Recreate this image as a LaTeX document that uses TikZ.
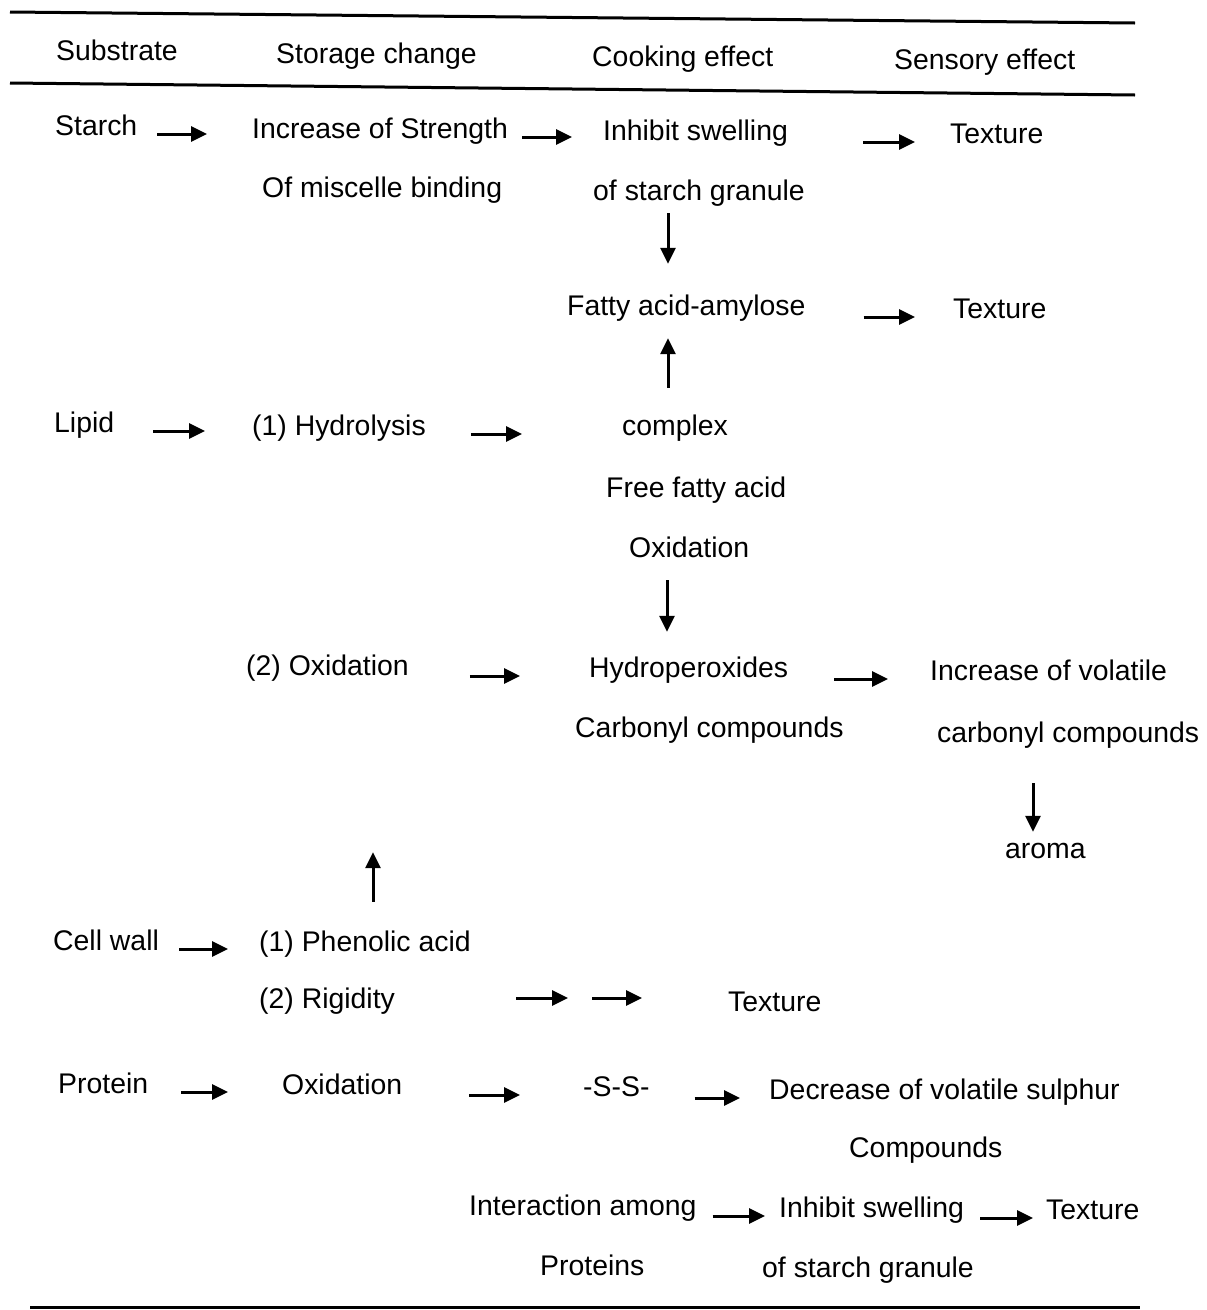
\documentclass[tikz,border=0pt]{standalone}
\usepackage{fontspec}
\setmainfont{Liberation Sans}
\usetikzlibrary{arrows.meta}

\begin{document}
\begin{tikzpicture}[x=1pt,y=-1pt,
  text node/.style={anchor=base west,inner sep=0pt,text height=20pt,text depth=18pt,
    font=\fontsize{28.4}{34}\selectfont},
  flow arrow/.style={line width=3pt,-{Triangle[length=16pt,width=15pt]}},
  rule/.style={line width=3pt}]

  \useasboundingbox (0,0) rectangle (1207,1310);

  % table rules
  \draw[rule] (10,12) -- (1135,23);
  \draw[rule] (10,83) -- (1135,95);
  \draw[rule] (30,1307) -- (1140,1307);

  % header
  \node[text node] (sub) at (56,60) {Substrate};
  \node[text node] (stor) at (276,63) {Storage change};
  \node[text node] (cook) at (592,66) {Cooking effect};
  \node[text node] (sens) at (894,69) {Sensory effect};

  % starch
  \node[text node] (starch) at (55,135) {Starch};
  \node[text node] (incr) at (252,138) {Increase of Strength};
  \node[text node] (misc) at (262,197) {Of miscelle binding};
  \node[text node] (inh) at (603,140) {Inhibit swelling};
  \node[text node] (gran) at (593,200) {of starch granule};
  \node[text node] (tex1) at (950,143) {Texture};
  \node[text node] (fatty) at (567,315) {Fatty acid-amylose};
  \node[text node] (tex2) at (953,318) {Texture};

  % lipid
  \node[text node] (lipid) at (54,432) {Lipid};
  \node[text node] (hydro) at (252,435) {(1) Hydrolysis};
  \node[text node] (compl) at (622,435) {complex};
  \node[text node] (ffa) at (606,497) {Free fatty acid};
  \node[text node] (oxl) at (629,557) {Oxidation};
  \node[text node] (oxs) at (246,675) {(2) Oxidation};
  \node[text node] (hyper) at (589,677) {Hydroperoxides};
  \node[text node] (carb) at (575,737) {Carbonyl compounds};
  \node[text node] (incv) at (930,680) {Increase of volatile};
  \node[text node] (carbv) at (937,742) {carbonyl compounds};
  \node[text node] (aroma) at (1005,858) {aroma};

  % cell wall
  \node[text node] (cell) at (53,950) {Cell wall};
  \node[text node] (phen) at (259,951) {(1) Phenolic acid};
  \node[text node] (rigid) at (259,1008) {(2) Rigidity};
  \node[text node] (tex3) at (728,1011) {Texture};
  \coordinate (mid) at (580,998);

  % protein
  \node[text node] (prot) at (58,1093) {Protein};
  \node[text node] (oxp) at (282,1094) {Oxidation};
  \node[text node] (ss) at (583,1096) {-S-S-};
  \node[text node] (decr) at (769,1099) {Decrease of volatile sulphur};
  \node[text node] (comp) at (849,1157) {Compounds};
  \node[text node] (inter) at (469,1215) {Interaction among};
  \node[text node] (inh2) at (779,1217) {Inhibit swelling};
  \node[text node] (tex4) at (1046,1219) {Texture};
  \node[text node] (prots) at (540,1275) {Proteins};
  \node[text node] (gran2) at (762,1277) {of starch granule};

  % horizontal arrows
  \draw[flow arrow,shorten <=20pt,shorten >=45pt] (starch.east) -- (incr.west |- starch.east);
  \draw[flow arrow,shorten <=14pt,shorten >=31pt] (incr.east) -- (inh.west |- incr.east);
  \draw[flow arrow,shorten <=75pt,shorten >=35pt] (inh.east |- tex1.west) -- (tex1.west);
  \draw[flow arrow,shorten <=58pt,shorten >=38pt] (fatty.east |- tex2.west) -- (tex2.west);
  \draw[flow arrow,shorten <=39pt,shorten >=47pt] (lipid.east) -- (hydro.west |- lipid.east);
  \draw[flow arrow,shorten <=45pt,shorten >=100pt] (hydro.east) -- (compl.west |- hydro.east);
  \draw[flow arrow,shorten <=61pt,shorten >=69pt] (oxs.east |- hyper.west) -- (hyper.west);
  \draw[flow arrow,shorten <=46pt,shorten >=42pt] (hyper.east |- incv.west) -- (incv.west);
  \draw[flow arrow,shorten <=20pt,shorten >=31pt] (cell.east) -- (phen.west |- cell.east);
  \draw[flow arrow,shorten <=121pt,shorten >=12pt] (rigid.east |- mid) -- (mid);
  \draw[flow arrow,shorten <=12pt,shorten >=86pt] (mid) -- (mid -| tex3.west);
  \draw[flow arrow,shorten <=33pt,shorten >=54pt] (prot.east) -- (oxp.west |- prot.east);
  \draw[flow arrow,shorten <=67pt,shorten >=63pt] (oxp.east |- ss.west) -- (ss.west);
  \draw[flow arrow,shorten <=45pt,shorten >=29pt] (ss.east |- decr.west) -- (decr.west);
  \draw[flow arrow,shorten <=16pt,shorten >=14pt] (inter.east |- inh2.west) -- (inh2.west);
  \draw[flow arrow,shorten <=16pt,shorten >=13pt] (inh2.east |- tex4.west) -- (tex4.west);

  % vertical arrows
  \draw[flow arrow,shorten <=-5pt,shorten >=31pt] ([xshift=75pt]gran.south west) -- ([xshift=101pt]fatty.north west);
  \draw[flow arrow,shorten <=27pt,shorten >=5pt] ([xshift=46pt]compl.north west) -- ([xshift=101pt]fatty.south west);
  \draw[flow arrow,shorten <=5pt,shorten >=25pt] ([xshift=38pt]oxl.south west) -- ([xshift=78pt]hyper.north west);
  \draw[flow arrow,shorten <=23pt,shorten >=6pt] ([xshift=96pt]carbv.south west) -- ([xshift=28pt]aroma.north west);
  \draw[flow arrow,shorten <=29pt,shorten >=159pt] ([xshift=114pt]phen.north west) -- ([xshift=127pt]oxs.south west);
\end{tikzpicture}
\end{document}
